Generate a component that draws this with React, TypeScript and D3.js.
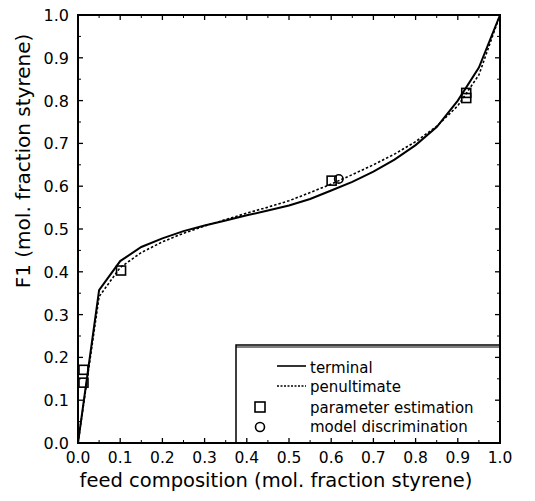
import React from 'react';
import * as d3 from 'd3';

const feed = [0, 0.05, 0.1, 0.15, 0.2, 0.25, 0.3, 0.35, 0.4, 0.45, 0.5, 0.55, 0.6, 0.65, 0.7, 0.75, 0.8, 0.85, 0.9, 0.95, 1.0];
const terminal = [0, 0.357, 0.425, 0.458, 0.478, 0.495, 0.508, 0.52, 0.532, 0.543, 0.555, 0.57, 0.59, 0.61, 0.634, 0.662, 0.696, 0.738, 0.8, 0.877, 1.0];
const penultimate = [0, 0.342, 0.41, 0.445, 0.47, 0.49, 0.507, 0.522, 0.537, 0.551, 0.566, 0.585, 0.605, 0.627, 0.65, 0.675, 0.704, 0.74, 0.788, 0.86, 1.0];

const paramX = [0.013, 0.013, 0.102, 0.601, 0.92, 0.92];
const paramY = [0.171, 0.141, 0.403, 0.613, 0.818, 0.806];
const discX = [0.618];
const discY = [0.617];

const ticks = [0, 0.1, 0.2, 0.3, 0.4, 0.5, 0.6, 0.7, 0.8, 0.9, 1.0];
const minorTicks = [0.05, 0.15, 0.25, 0.35, 0.45, 0.55, 0.65, 0.75, 0.85, 0.95];

const margin = { left: 78, top: 15, right: 500, bottom: 443 };
const font = '"DejaVu Sans", sans-serif';

export default function App() {
  const x = d3.scaleLinear().domain([0, 1]).range([margin.left, margin.right]);
  const y = d3.scaleLinear().domain([0, 1]).range([margin.bottom, margin.top]);

  const line = d3.line<number>().x((_, i) => x(feed[i])).y(d => y(d));

  const legendX = 236;
  const legendTop = 345;

  return (
    <svg width={535} height={501} style={{ position: 'absolute', left: 0, top: 0, background: '#fff' }}>
      <rect x={0} y={0} width={535} height={501} fill="#fff" />
      {/* curves */}
      <path d={line(terminal) || ''} fill="none" stroke="#000" strokeWidth={2} />
      <path d={line(penultimate) || ''} fill="none" stroke="#000" strokeWidth={1.6} strokeDasharray="2.5,2" />

      {/* legend box */}
      <rect x={legendX} y={legendTop} width={margin.right - legendX} height={margin.bottom - legendTop} fill="#fff" stroke="#000" strokeWidth={1.5} />
      <line x1={legendX} x2={margin.right} y1={legendTop + 2} y2={legendTop + 2} stroke="#000" strokeWidth={1} />

      {/* markers */}
      {paramX.map((v, i) => (
        <rect key={'p' + i} x={x(v) - 4.5} y={y(paramY[i]) - 4.5} width={9} height={9} fill="none" stroke="#000" strokeWidth={1.6} />
      ))}
      {discX.map((v, i) => (
        <circle key={'c' + i} cx={x(v)} cy={y(discY[i])} r={4.2} fill="none" stroke="#000" strokeWidth={1.6} />
      ))}

      {/* frame */}
      <rect x={margin.left} y={margin.top} width={margin.right - margin.left} height={margin.bottom - margin.top} fill="none" stroke="#000" strokeWidth={2} />

      {/* ticks */}
      {ticks.map(t => (
        <g key={'t' + t} stroke="#000" strokeWidth={1.3}>
          <line x1={x(t)} x2={x(t)} y1={margin.bottom} y2={margin.bottom - 5} />
          <line x1={x(t)} x2={x(t)} y1={margin.top} y2={margin.top + 5} />
          <line x1={margin.left} x2={margin.left + 5} y1={y(t)} y2={y(t)} />
          <line x1={margin.right} x2={margin.right - 5} y1={y(t)} y2={y(t)} />
        </g>
      ))}
      {minorTicks.map(t => (
        <g key={'m' + t} stroke="#000" strokeWidth={1}>
          <line x1={x(t)} x2={x(t)} y1={margin.bottom} y2={margin.bottom - 3} />
          <line x1={x(t)} x2={x(t)} y1={margin.top} y2={margin.top + 3} />
          <line x1={margin.left} x2={margin.left + 3} y1={y(t)} y2={y(t)} />
          <line x1={margin.right} x2={margin.right - 3} y1={y(t)} y2={y(t)} />
        </g>
      ))}

      {/* tick labels */}
      {ticks.map(t => (
        <text key={'xl' + t} x={x(t)} y={463} textAnchor="middle" fontFamily={font} fontSize={15.5}>{t.toFixed(1)}</text>
      ))}
      {ticks.map(t => (
        <text key={'yl' + t} x={69} y={y(t) + 6} textAnchor="end" fontFamily={font} fontSize={16}>{t.toFixed(1)}</text>
      ))}

      {/* axis titles */}
      <text x={276} y={487} textAnchor="middle" fontFamily={font} fontSize={19.5}>feed composition (mol. fraction styrene)</text>
      <text transform="translate(30,161) rotate(-90)" textAnchor="middle" fontFamily={font} fontSize={20}>F1 (mol. fraction styrene)</text>

      {/* legend entries */}
      <line x1={277} x2={306} y1={366} y2={366} stroke="#000" strokeWidth={1.6} />
      <text x={310} y={373} fontFamily={font} fontSize={15}>terminal</text>
      <line x1={277} x2={306} y1={386} y2={386} stroke="#000" strokeWidth={1.3} strokeDasharray="2,1.5" />
      <text x={310} y={392} fontFamily={font} fontSize={15}>penultimate</text>
      <rect x={255} y={402} width={10} height={10} fill="none" stroke="#000" strokeWidth={1.6} />
      <text x={310} y={413} fontFamily={font} fontSize={15}>parameter estimation</text>
      <circle cx={260} cy={427} r={4.5} fill="none" stroke="#000" strokeWidth={1.6} />
      <text x={310} y={432} fontFamily={font} fontSize={15}>model discrimination</text>
    </svg>
  );
}
